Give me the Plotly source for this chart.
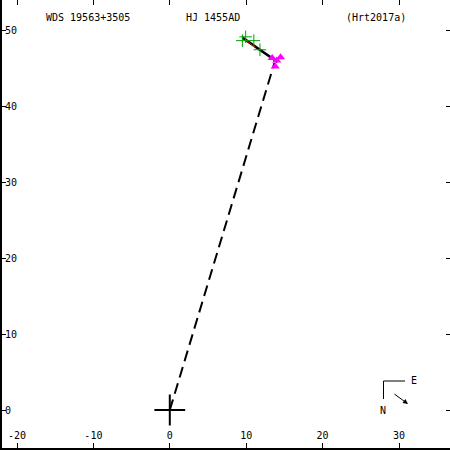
import plotly.graph_objects as go

# Data (arcsec)
green_x = [9.93, 9.5, 11.0, 11.8]
green_y = [49.1, 48.6, 48.6, 47.4]
mag_x = [13.4, 14.5, 13.8, 14.0]
mag_y = [46.3, 46.4, 45.2, 46.0]
orbit_x = [9.5, 14.1]
orbit_y = [49.0, 45.8]
red_x = [9.9, 11.2]
red_y = [48.7, 47.7]
dash_x = [0, 13.7]
dash_y = [0, 45.7]
origin_x = [0]
origin_y = [0]

xticks = [-20, -10, 0, 10, 20, 30]
yticks = [0, 10, 20, 30, 40, 50]

FONT = "DejaVu Sans Mono"

fig = go.Figure()
fig.add_trace(go.Scatter(x=dash_x, y=dash_y, mode="lines",
                         line=dict(color="black", width=2, dash="11px,6px"), hoverinfo="skip"))
fig.add_trace(go.Scatter(x=orbit_x, y=orbit_y, mode="lines",
                         line=dict(color="black", width=2.5), hoverinfo="skip"))
fig.add_trace(go.Scatter(x=red_x, y=red_y, mode="lines",
                         line=dict(color="red", width=1), hoverinfo="skip"))
fig.add_trace(go.Scatter(x=green_x, y=green_y, mode="markers",
                         marker=dict(symbol="cross-thin", size=9, line=dict(color="#00a000", width=1))))
fig.add_trace(go.Scatter(x=mag_x, y=mag_y, mode="markers",
                         marker=dict(symbol="triangle-up", size=8, color="magenta")))
fig.add_trace(go.Scatter(x=origin_x, y=origin_y, mode="markers",
                         marker=dict(symbol="cross-thin", size=22, line=dict(color="black", width=2))))

# plot area: px 2..450 horizontally, py 0..448 vertically
xr = [-20 - 15 / 7.64, -20 + 433 / 7.64]
yr = [(410 - 448) / 7.6, 410 / 7.6]

tf = dict(family=FONT, size=10, color="#000000")

common = dict(showgrid=False, zeroline=False, tickcolor="black")

fig.update_layout(
    width=450, height=450,
    margin=dict(l=2, r=0, t=0, b=2),
    paper_bgcolor="white", plot_bgcolor="white",
    showlegend=False,
    font=dict(family=FONT, size=10, color="#000000"),
    xaxis=dict(range=xr, tickvals=xticks, showticklabels=False, ticks="inside", ticklen=5,
               showline=True, linecolor="black", linewidth=1.5, **common),
    yaxis=dict(range=yr, tickvals=yticks, showticklabels=False, ticks="inside", ticklen=4,
               showline=True, linecolor="black", linewidth=1.5, **common),
    xaxis2=dict(range=xr, overlaying="x", side="top", tickvals=xticks, showticklabels=False,
                ticks="inside", ticklen=5, showline=False, **common),
    yaxis2=dict(range=yr, overlaying="y", side="right", tickvals=yticks, showticklabels=False,
                ticks="inside", ticklen=4, showline=False, **common),
    xaxis3=dict(range=xr, overlaying="x", anchor="free", position=(448 - 428) / 448, side="bottom",
                tickvals=xticks, ticktext=[str(v) for v in xticks], ticks="", showline=False,
                tickfont=tf, **common),
    yaxis3=dict(range=yr, overlaying="y", anchor="free", position=2 / 448, side="right",
                tickvals=yticks, ticktext=[str(v) for v in yticks], ticks="", showline=False,
                tickfont=tf, **common),
)
# dummy traces to activate extra axes
fig.add_trace(go.Scatter(x=[None], y=[None], xaxis="x2", yaxis="y2", hoverinfo="skip"))
fig.add_trace(go.Scatter(x=[None], y=[None], xaxis="x3", yaxis="y3", hoverinfo="skip"))

def ann(text, x, y, xanchor="left"):
    fig.add_annotation(text=text, x=x, y=y, xref="paper", yref="paper", showarrow=False,
                       xanchor=xanchor, yanchor="middle", font=tf)

# paper coords helpers (plot area px 2..450, py 0..448)
def px(x):
    return (x - 2) / 448
def py(y):
    return 1 - y / 448

ann("WDS 19563+3505", px(44), py(17))
ann("HJ 1455AD", px(184), py(17))
ann("(Hrt2017a)", px(344), py(17))

# compass
fig.add_shape(type="line", xref="paper", yref="paper", x0=px(383.5), y0=py(381), x1=px(405), y1=py(381),
              line=dict(color="black", width=1))
fig.add_shape(type="line", xref="paper", yref="paper", x0=px(383.5), y0=py(381), x1=px(383.5), y1=py(399),
              line=dict(color="black", width=1))
ann("E", px(409), py(380))
ann("N", px(382.5), py(410), xanchor="center")
fig.add_annotation(x=px(408), y=py(404), ax=-15, ay=-11, xref="paper", yref="paper",
                   axref="pixel", ayref="pixel", showarrow=True, arrowhead=2, arrowsize=1,
                   arrowwidth=1, arrowcolor="black", text="")

fig.write_html("out.html", config={"displayModeBar": False},
               post_script="document.body.style.margin='0';document.body.style.padding='0';")
